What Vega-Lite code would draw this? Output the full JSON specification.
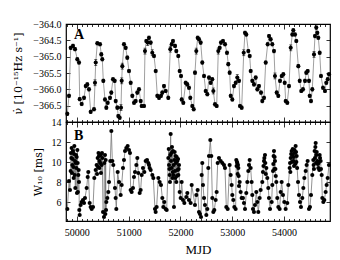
{
"$schema": "https://vega.github.io/schema/vega-lite/v6.json",
"padding": {"left": 12, "top": 18, "right": 9, "bottom": 5},
"spacing": 0,
"bounds": "flush",
"config": {
  "font": "Liberation Serif",
  "view": {"stroke": "#000", "strokeWidth": 1.2},
  "axis": {"domain": false, "grid": false, "labelFont": "Liberation Serif", "labelFontSize": 10, "labelColor": "#000", "tickColor": "#000", "tickWidth": 0.8, "titleFont": "DejaVu Serif", "titleFontWeight": "normal", "titleColor": "#000", "titleFontSize": 11, "labelFlush": false, "labelOverlap": false}
},
"datasets": {
"nudot": [
{"m":49815,"v":-366.75,"e":0.05},{"m":49848,"v":-366.2,"e":0.05},{"m":49881,"v":-364.73,"e":0.05},{"m":49925,"v":-364.67,"e":0.05},{"m":49964,"v":-364.77,"e":0.05},{"m":50008,"v":-365.08,"e":0.05},{"m":50041,"v":-365.18,"e":0.05},{"m":50055,"v":-366.3,"e":0.05},{"m":50093,"v":-366.45,"e":0.05},{"m":50138,"v":-366.26,"e":0.05},{"m":50171,"v":-365.9,"e":0.05},{"m":50201,"v":-365.85,"e":0.05},{"m":50234,"v":-366.0,"e":0.05},{"m":50267,"v":-366.69,"e":0.05},{"m":50331,"v":-366.61,"e":0.05},{"m":50350,"v":-365.8,"e":0.09},{"m":50364,"v":-365.18,"e":0.09},{"m":50395,"v":-364.59,"e":0.05},{"m":50447,"v":-364.62,"e":0.05},{"m":50472,"v":-364.93,"e":0.05},{"m":50491,"v":-365.08,"e":0.05},{"m":50511,"v":-365.74,"e":0.05},{"m":50543,"v":-366.31,"e":0.05},{"m":50569,"v":-366.56,"e":0.05},{"m":50596,"v":-366.41,"e":0.05},{"m":50640,"v":-366.26,"e":0.05},{"m":50665,"v":-366.1,"e":0.05},{"m":50698,"v":-365.69,"e":0.05},{"m":50731,"v":-365.74,"e":0.05},{"m":50750,"v":-366.36,"e":0.05},{"m":50781,"v":-366.56,"e":0.05},{"m":50800,"v":-366.82,"e":0.05},{"m":50827,"v":-366.87,"e":0.05},{"m":50852,"v":-366.56,"e":0.09},{"m":50866,"v":-365.74,"e":0.09},{"m":50878,"v":-365.29,"e":0.09},{"m":50910,"v":-364.62,"e":0.05},{"m":50943,"v":-364.73,"e":0.05},{"m":50974,"v":-365.03,"e":0.05},{"m":51007,"v":-365.44,"e":0.05},{"m":51040,"v":-365.8,"e":0.05},{"m":51071,"v":-366.2,"e":0.05},{"m":51104,"v":-366.41,"e":0.05},{"m":51136,"v":-366.36,"e":0.05},{"m":51167,"v":-366.1,"e":0.05},{"m":51200,"v":-366.0,"e":0.05},{"m":51233,"v":-366.36,"e":0.05},{"m":51252,"v":-366.51,"e":0.05},{"m":51297,"v":-366.51,"e":0.05},{"m":51316,"v":-364.83,"e":0.09},{"m":51341,"v":-364.52,"e":0.05},{"m":51368,"v":-364.57,"e":0.09},{"m":51393,"v":-364.42,"e":0.05},{"m":51426,"v":-364.57,"e":0.05},{"m":51457,"v":-364.88,"e":0.09},{"m":51490,"v":-364.98,"e":0.05},{"m":51523,"v":-365.44,"e":0.05},{"m":51554,"v":-366.2,"e":0.05},{"m":51587,"v":-366.26,"e":0.05},{"m":51625,"v":-366.2,"e":0.05},{"m":51650,"v":-366.1,"e":0.05},{"m":51683,"v":-365.9,"e":0.05},{"m":51716,"v":-366.05,"e":0.05},{"m":51766,"v":-366.26,"e":0.05},{"m":51805,"v":-364.77,"e":0.09},{"m":51832,"v":-364.62,"e":0.05},{"m":51857,"v":-364.52,"e":0.05},{"m":51896,"v":-364.67,"e":0.05},{"m":51921,"v":-364.83,"e":0.05},{"m":51959,"v":-364.98,"e":0.05},{"m":51986,"v":-365.44,"e":0.05},{"m":52012,"v":-365.59,"e":0.05},{"m":52025,"v":-366.31,"e":0.05},{"m":52056,"v":-366.41,"e":0.05},{"m":52102,"v":-365.8,"e":0.05},{"m":52133,"v":-365.85,"e":0.05},{"m":52166,"v":-365.95,"e":0.05},{"m":52191,"v":-366.26,"e":0.05},{"m":52230,"v":-366.51,"e":0.05},{"m":52257,"v":-366.61,"e":0.05},{"m":52282,"v":-365.49,"e":0.05},{"m":52307,"v":-364.83,"e":0.09},{"m":52334,"v":-364.42,"e":0.05},{"m":52359,"v":-364.47,"e":0.05},{"m":52392,"v":-364.57,"e":0.05},{"m":52423,"v":-365.18,"e":0.05},{"m":52456,"v":-365.59,"e":0.05},{"m":52489,"v":-366.05,"e":0.05},{"m":52520,"v":-366.15,"e":0.05},{"m":52552,"v":-365.64,"e":0.05},{"m":52585,"v":-365.8,"e":0.05},{"m":52616,"v":-365.69,"e":0.05},{"m":52636,"v":-366.05,"e":0.09},{"m":52668,"v":-366.46,"e":0.05},{"m":52701,"v":-366.51,"e":0.05},{"m":52732,"v":-364.83,"e":0.09},{"m":52759,"v":-364.73,"e":0.05},{"m":52784,"v":-364.57,"e":0.05},{"m":52823,"v":-364.52,"e":0.05},{"m":52862,"v":-364.62,"e":0.05},{"m":52900,"v":-364.88,"e":0.05},{"m":52925,"v":-365.23,"e":0.05},{"m":52952,"v":-365.49,"e":0.05},{"m":52972,"v":-366.2,"e":0.05},{"m":53003,"v":-366.31,"e":0.05},{"m":53035,"v":-365.9,"e":0.05},{"m":53068,"v":-365.8,"e":0.05},{"m":53099,"v":-365.64,"e":0.09},{"m":53132,"v":-365.74,"e":0.05},{"m":53151,"v":-366.51,"e":0.05},{"m":53184,"v":-366.56,"e":0.05},{"m":53223,"v":-364.88,"e":0.09},{"m":53248,"v":-364.27,"e":0.05},{"m":53273,"v":-364.32,"e":0.05},{"m":53312,"v":-364.83,"e":0.05},{"m":53339,"v":-364.98,"e":0.05},{"m":53358,"v":-365.44,"e":0.05},{"m":53389,"v":-365.74,"e":0.05},{"m":53422,"v":-365.85,"e":0.05},{"m":53455,"v":-365.64,"e":0.05},{"m":53486,"v":-366.0,"e":0.05},{"m":53518,"v":-365.9,"e":0.05},{"m":53557,"v":-366.1,"e":0.05},{"m":53582,"v":-366.36,"e":0.05},{"m":53615,"v":-366.26,"e":0.05},{"m":53648,"v":-365.18,"e":0.05},{"m":53686,"v":-364.62,"e":0.05},{"m":53712,"v":-364.37,"e":0.05},{"m":53744,"v":-364.47,"e":0.05},{"m":53775,"v":-364.62,"e":0.05},{"m":53808,"v":-364.83,"e":0.05},{"m":53827,"v":-365.59,"e":0.09},{"m":53860,"v":-366.1,"e":0.05},{"m":53891,"v":-366.2,"e":0.05},{"m":53924,"v":-365.74,"e":0.05},{"m":53957,"v":-365.59,"e":0.05},{"m":53988,"v":-365.54,"e":0.05},{"m":54015,"v":-365.8,"e":0.05},{"m":54034,"v":-366.36,"e":0.05},{"m":54065,"v":-366.41,"e":0.05},{"m":54098,"v":-365.9,"e":0.05},{"m":54131,"v":-364.73,"e":0.09},{"m":54162,"v":-364.32,"e":0.05},{"m":54181,"v":-364.19,"e":0.05},{"m":54214,"v":-364.32,"e":0.05},{"m":54239,"v":-364.52,"e":0.05},{"m":54278,"v":-365.29,"e":0.05},{"m":54305,"v":-365.74,"e":0.05},{"m":54335,"v":-366.05,"e":0.05},{"m":54368,"v":-366.0,"e":0.05},{"m":54407,"v":-365.74,"e":0.05},{"m":54432,"v":-365.49,"e":0.05},{"m":54459,"v":-365.44,"e":0.05},{"m":54484,"v":-365.74,"e":0.05},{"m":54498,"v":-366.2,"e":0.05},{"m":54523,"v":-366.36,"e":0.05},{"m":54548,"v":-366.0,"e":0.05},{"m":54581,"v":-364.93,"e":0.09},{"m":54600,"v":-364.37,"e":0.05},{"m":54625,"v":-364.11,"e":0.05},{"m":54645,"v":-364.27,"e":0.05},{"m":54664,"v":-364.42,"e":0.05},{"m":54691,"v":-364.88,"e":0.05},{"m":54716,"v":-365.59,"e":0.05},{"m":54755,"v":-365.95,"e":0.05},{"m":54793,"v":-366.05,"e":0.05},{"m":54818,"v":-365.8,"e":0.05},{"m":54846,"v":-365.69,"e":0.05},{"m":54871,"v":-365.54,"e":0.05}
],
"w10": [
{"m":49816,"w":5.3},{"m":49848,"w":8.1},{"m":49867,"w":7.2},{"m":49880,"w":9.1},{"m":49893,"w":10.4},{"m":49899,"w":11.4},{"m":49912,"w":9.7},{"m":49925,"w":11.1},{"m":49938,"w":8.4},{"m":49951,"w":11.6},{"m":49964,"w":10.1},{"m":49970,"w":7.4},{"m":49983,"w":10.7},{"m":49990,"w":9.4},{"m":50002,"w":6.9},{"m":50009,"w":11.2},{"m":50015,"w":9.9},{"m":50028,"w":8.7},{"m":50041,"w":8.0},{"m":50047,"w":5.2},{"m":50054,"w":4.7},{"m":50073,"w":5.7},{"m":50093,"w":6.0},{"m":50118,"w":6.2},{"m":50138,"w":5.9},{"m":50157,"w":6.4},{"m":50189,"w":7.4},{"m":50209,"w":8.5},{"m":50221,"w":9.0},{"m":50247,"w":5.9},{"m":50266,"w":5.5},{"m":50286,"w":5.3},{"m":50312,"w":5.5},{"m":50337,"w":8.4},{"m":50363,"w":9.2},{"m":50382,"w":9.7},{"m":50402,"w":10.4},{"m":50427,"w":10.6},{"m":50440,"w":10.1},{"m":50460,"w":10.7},{"m":50479,"w":9.7},{"m":50492,"w":10.4},{"m":50505,"w":5.0},{"m":50524,"w":4.5},{"m":50530,"w":9.9},{"m":50543,"w":10.7},{"m":50550,"w":4.8},{"m":50556,"w":10.2},{"m":50563,"w":5.2},{"m":50569,"w":6.0},{"m":50588,"w":6.4},{"m":50608,"w":7.0},{"m":50621,"w":8.0},{"m":50646,"w":10.1},{"m":50666,"w":13.1},{"m":50685,"w":10.1},{"m":50704,"w":9.7},{"m":50736,"w":7.4},{"m":50749,"w":6.4},{"m":50762,"w":5.3},{"m":50788,"w":9.0},{"m":50814,"w":8.0},{"m":50846,"w":6.7},{"m":50865,"w":7.7},{"m":50891,"w":9.4},{"m":50910,"w":10.2},{"m":50930,"w":11.1},{"m":50955,"w":11.4},{"m":50981,"w":11.6},{"m":51007,"w":11.2},{"m":51026,"w":10.9},{"m":51039,"w":7.2},{"m":51058,"w":7.0},{"m":51084,"w":7.4},{"m":51103,"w":8.5},{"m":51123,"w":9.0},{"m":51149,"w":9.7},{"m":51168,"w":10.4},{"m":51187,"w":8.9},{"m":51213,"w":6.9},{"m":51232,"w":7.2},{"m":51252,"w":8.7},{"m":51277,"w":9.4},{"m":51303,"w":9.0},{"m":51329,"w":10.1},{"m":51355,"w":10.2},{"m":51380,"w":9.9},{"m":51393,"w":9.7},{"m":51406,"w":9.4},{"m":51426,"w":9.2},{"m":51458,"w":8.7},{"m":51477,"w":8.4},{"m":51509,"w":5.3},{"m":51522,"w":5.0},{"m":51541,"w":5.5},{"m":51574,"w":8.4},{"m":51599,"w":8.0},{"m":51625,"w":7.7},{"m":51651,"w":6.4},{"m":51670,"w":5.5},{"m":51689,"w":6.0},{"m":51715,"w":5.3},{"m":51735,"w":5.2},{"m":51767,"w":10.4},{"m":51780,"w":9.7},{"m":51793,"w":8.7},{"m":51805,"w":10.7},{"m":51812,"w":12.8},{"m":51818,"w":10.1},{"m":51831,"w":9.4},{"m":51844,"w":8.4},{"m":51857,"w":11.1},{"m":51870,"w":9.7},{"m":51876,"w":5.5},{"m":51883,"w":10.2},{"m":51895,"w":9.1},{"m":51908,"w":10.6},{"m":51921,"w":8.0},{"m":51941,"w":10.1},{"m":51960,"w":8.7},{"m":51973,"w":9.7},{"m":51986,"w":7.0},{"m":52005,"w":6.4},{"m":52024,"w":8.0},{"m":52050,"w":6.2},{"m":52076,"w":5.9},{"m":52114,"w":6.5},{"m":52134,"w":6.9},{"m":52166,"w":6.2},{"m":52198,"w":5.9},{"m":52218,"w":7.7},{"m":52282,"w":5.7},{"m":52308,"w":6.7},{"m":52333,"w":7.2},{"m":52359,"w":5.0},{"m":52378,"w":4.8},{"m":52398,"w":4.5},{"m":52411,"w":8.7},{"m":52423,"w":9.9},{"m":52436,"w":7.7},{"m":52456,"w":6.4},{"m":52475,"w":5.7},{"m":52501,"w":4.7},{"m":52520,"w":5.3},{"m":52539,"w":9.4},{"m":52552,"w":10.6},{"m":52578,"w":12.2},{"m":52597,"w":10.6},{"m":52617,"w":6.4},{"m":52636,"w":5.0},{"m":52655,"w":5.2},{"m":52681,"w":6.2},{"m":52700,"w":7.0},{"m":52720,"w":9.9},{"m":52745,"w":10.4},{"m":52778,"w":10.1},{"m":52810,"w":9.9},{"m":52842,"w":9.7},{"m":52861,"w":9.4},{"m":52887,"w":5.5},{"m":52913,"w":5.3},{"m":52951,"w":9.7},{"m":52971,"w":8.7},{"m":52990,"w":7.7},{"m":53003,"w":6.7},{"m":53022,"w":6.2},{"m":53042,"w":5.5},{"m":53067,"w":5.3},{"m":53080,"w":10.2},{"m":53099,"w":9.9},{"m":53119,"w":9.4},{"m":53145,"w":8.0},{"m":53164,"w":7.0},{"m":53183,"w":6.4},{"m":53209,"w":6.4},{"m":53228,"w":5.9},{"m":53248,"w":5.3},{"m":53273,"w":6.9},{"m":53293,"w":8.0},{"m":53312,"w":9.1},{"m":53325,"w":9.7},{"m":53338,"w":10.2},{"m":53357,"w":9.4},{"m":53376,"w":8.0},{"m":53389,"w":6.7},{"m":53402,"w":5.3},{"m":53421,"w":5.0},{"m":53441,"w":5.7},{"m":53467,"w":7.0},{"m":53486,"w":6.0},{"m":53505,"w":5.0},{"m":53531,"w":6.4},{"m":53550,"w":7.2},{"m":53582,"w":8.0},{"m":53615,"w":10.1},{"m":53634,"w":10.7},{"m":53660,"w":9.4},{"m":53679,"w":8.4},{"m":53698,"w":7.4},{"m":53711,"w":6.4},{"m":53731,"w":5.3},{"m":53763,"w":6.0},{"m":53776,"w":7.7},{"m":53789,"w":9.1},{"m":53808,"w":11.1},{"m":53827,"w":10.1},{"m":53853,"w":8.0},{"m":53872,"w":6.4},{"m":53892,"w":5.5},{"m":53917,"w":5.3},{"m":53937,"w":7.0},{"m":53956,"w":8.0},{"m":53982,"w":6.7},{"m":54007,"w":6.0},{"m":54033,"w":5.3},{"m":54065,"w":5.9},{"m":54085,"w":7.7},{"m":54111,"w":9.4},{"m":54130,"w":10.4},{"m":54149,"w":11.1},{"m":54162,"w":10.7},{"m":54181,"w":10.1},{"m":54201,"w":11.2},{"m":54226,"w":11.6},{"m":54246,"w":10.6},{"m":54272,"w":8.0},{"m":54291,"w":6.7},{"m":54310,"w":6.0},{"m":54329,"w":5.5},{"m":54355,"w":6.4},{"m":54375,"w":7.4},{"m":54394,"w":8.4},{"m":54420,"w":9.1},{"m":54439,"w":9.7},{"m":54458,"w":10.1},{"m":54484,"w":5.3},{"m":54503,"w":5.5},{"m":54523,"w":6.7},{"m":54548,"w":8.7},{"m":54574,"w":9.7},{"m":54593,"w":11.1},{"m":54613,"w":11.9},{"m":54626,"w":10.7},{"m":54645,"w":10.1},{"m":54664,"w":9.4},{"m":54690,"w":10.7},{"m":54709,"w":10.1},{"m":54729,"w":8.7},{"m":54742,"w":6.4},{"m":54761,"w":6.0},{"m":54780,"w":6.2},{"m":54806,"w":7.0},{"m":54825,"w":7.7},{"m":54845,"w":8.4},{"m":54870,"w":9.7},
{"m":49885,"w":10.9},{"m":49905,"w":8.9},{"m":49918,"w":10.3},{"m":49932,"w":9.5},{"m":49945,"w":10.8},{"m":49958,"w":8.7},{"m":49976,"w":9.9},{"m":49996,"w":10.5},{"m":50020,"w":7.0},{"m":50034,"w":9.2},
{"m":50390,"w":8.8},{"m":50410,"w":9.5},{"m":50418,"w":10.9},{"m":50433,"w":9.4},{"m":50450,"w":9.9},{"m":50466,"w":8.9},{"m":50485,"w":10.9},
{"m":51775,"w":11.3},{"m":51786,"w":9.3},{"m":51799,"w":8.0},{"m":51824,"w":10.9},{"m":51837,"w":11.5},{"m":51850,"w":9.0},{"m":51863,"w":8.7},{"m":51889,"w":11.0},{"m":51902,"w":8.4},{"m":51914,"w":9.9},{"m":51928,"w":10.5},{"m":51934,"w":8.6},{"m":51947,"w":9.2},{"m":51954,"w":10.3},{"m":51966,"w":9.3},
{"m":53086,"w":9.6},{"m":53093,"w":10.0},{"m":53106,"w":8.8},{"m":53112,"w":9.7},{"m":53125,"w":8.6},{"m":53132,"w":7.6},
{"m":53595,"w":9.0},{"m":53605,"w":9.6},{"m":53622,"w":10.4},{"m":53640,"w":9.9},{"m":53650,"w":8.8},
{"m":53795,"w":9.8},{"m":53801,"w":10.6},{"m":53815,"w":9.3},{"m":53820,"w":10.5},{"m":53835,"w":9.3},{"m":53842,"w":8.6},
{"m":54118,"w":9.9},{"m":54124,"w":9.0},{"m":54140,"w":10.8},{"m":54155,"w":10.0},{"m":54170,"w":11.3},{"m":54188,"w":10.5},{"m":54195,"w":9.6},{"m":54210,"w":10.9},{"m":54218,"w":9.8},{"m":54234,"w":11.0},{"m":54240,"w":10.0},{"m":54255,"w":9.4},
{"m":54568,"w":10.2},{"m":54580,"w":9.3},{"m":54600,"w":10.4},{"m":54607,"w":11.5},{"m":54620,"w":9.9},{"m":54633,"w":11.0},{"m":54652,"w":9.8},{"m":54670,"w":9.9},{"m":54683,"w":9.2},{"m":54697,"w":10.4},{"m":54716,"w":9.3}
],
"labA": [{"m": 49945, "v": -364.47, "t": "A"}],
"labB": [{"m": 49945, "w": 12.25, "t": "B"}]
},
"vconcat": [
{
  "width": 264, "height": 98,
  "resolve": {"axis": {"x": "independent", "y": "independent"}},
  "layer": [
    {"data": {"name": "nudot"}, "mark": {"type": "line", "color": "#888", "strokeWidth": 0.8},
     "encoding": {
       "x": {"field": "m", "type": "quantitative", "scale": {"domain": [49790, 54890], "nice": false, "zero": false},
             "axis": {"orient": "bottom", "labels": false, "title": null, "values": [49800,49900,50000,50100,50200,50300,50400,50500,50600,50700,50800,50900,51000,51100,51200,51300,51400,51500,51600,51700,51800,51900,52000,52100,52200,52300,52400,52500,52600,52700,52800,52900,53000,53100,53200,53300,53400,53500,53600,53700,53800,53900,54000,54100,54200,54300,54400,54500,54600,54700,54800],
                      "tickSize": {"condition": {"test": "datum.value % 1000 === 0", "value": -5}, "value": -2.5}}},
       "y": {"field": "v", "type": "quantitative", "scale": {"domain": [-367, -364], "nice": false, "zero": false},
             "axis": {"orient": "left", "values": [-366.5, -366, -365.5, -365, -364.5, -364], "format": ".1f", "tickSize": -4, "labelPadding": 9, "title": "ν̇ [10⁻¹⁵Hz s⁻¹]", "titlePadding": 9}}
     }},
    {"data": {"name": "nudot"}, "mark": {"type": "errorbar", "color": "#000", "ticks": {"size": 3}, "thickness": 0.8},
     "encoding": {
       "x": {"field": "m", "type": "quantitative", "axis": null},
       "y": {"field": "v", "type": "quantitative", "axis": null},
       "yError": {"field": "e"}
     }},
    {"data": {"name": "nudot"}, "mark": {"type": "circle", "color": "#000", "opacity": 1, "size": 17},
     "encoding": {
       "x": {"field": "m", "type": "quantitative",
             "axis": {"orient": "top", "labels": false, "title": null, "values": [49800,49900,50000,50100,50200,50300,50400,50500,50600,50700,50800,50900,51000,51100,51200,51300,51400,51500,51600,51700,51800,51900,52000,52100,52200,52300,52400,52500,52600,52700,52800,52900,53000,53100,53200,53300,53400,53500,53600,53700,53800,53900,54000,54100,54200,54300,54400,54500,54600,54700,54800],
                      "tickSize": {"condition": {"test": "datum.value % 1000 === 0", "value": -5}, "value": -2.5}}},
       "y": {"field": "v", "type": "quantitative",
             "axis": {"orient": "right", "labels": false, "title": null, "values": [-366.5, -366, -365.5, -365, -364.5, -364], "tickSize": -4}}
     }},
    {"data": {"name": "labA"}, "mark": {"type": "text", "align": "left", "baseline": "alphabetic", "fontSize": 14, "fontWeight": "bold", "font": "Liberation Serif", "color": "#000"},
     "encoding": {
       "x": {"field": "m", "type": "quantitative", "axis": null},
       "y": {"field": "v", "type": "quantitative", "axis": null},
       "text": {"field": "t"}
     }}
  ]
},
{
  "width": 264, "height": 99,
  "resolve": {"axis": {"x": "independent", "y": "independent"}},
  "layer": [
    {"data": {"name": "w10"}, "mark": {"type": "line", "color": "#777", "strokeWidth": 0.8},
     "encoding": {
       "x": {"field": "m", "type": "quantitative", "scale": {"domain": [49790, 54890], "nice": false, "zero": false},
             "axis": {"orient": "bottom", "format": "d", "labelExpr": "datum.value % 1000 === 0 ? datum.label : ''", "labelPadding": 11, "title": "MJD", "titleFont": "Liberation Serif", "titleFontSize": 13, "titlePadding": 4,
                      "values": [49800,49900,50000,50100,50200,50300,50400,50500,50600,50700,50800,50900,51000,51100,51200,51300,51400,51500,51600,51700,51800,51900,52000,52100,52200,52300,52400,52500,52600,52700,52800,52900,53000,53100,53200,53300,53400,53500,53600,53700,53800,53900,54000,54100,54200,54300,54400,54500,54600,54700,54800],
                      "tickSize": {"condition": {"test": "datum.value % 1000 === 0", "value": -5}, "value": -2.5}}},
       "y": {"field": "w", "type": "quantitative", "scale": {"domain": [4.1, 14], "nice": false, "zero": false},
             "axis": {"orient": "left", "values": [6, 8, 10, 12, 14], "tickSize": -4, "labelPadding": 9, "title": "W₁₀ [ms]", "titlePadding": 8}}
     }},
    {"data": {"name": "w10"}, "mark": {"type": "circle", "color": "#000", "opacity": 1, "size": 17},
     "encoding": {
       "x": {"field": "m", "type": "quantitative",
             "axis": {"orient": "top", "labels": false, "title": null, "values": [49800,49900,50000,50100,50200,50300,50400,50500,50600,50700,50800,50900,51000,51100,51200,51300,51400,51500,51600,51700,51800,51900,52000,52100,52200,52300,52400,52500,52600,52700,52800,52900,53000,53100,53200,53300,53400,53500,53600,53700,53800,53900,54000,54100,54200,54300,54400,54500,54600,54700,54800],
                      "tickSize": {"condition": {"test": "datum.value % 1000 === 0", "value": -5}, "value": -2.5}}},
       "y": {"field": "w", "type": "quantitative",
             "axis": {"orient": "right", "labels": false, "title": null, "values": [6, 8, 10, 12, 14], "tickSize": -4}}
     }},
    {"data": {"name": "labB"}, "mark": {"type": "text", "align": "left", "baseline": "alphabetic", "fontSize": 14, "fontWeight": "bold", "font": "Liberation Serif", "color": "#000"},
     "encoding": {
       "x": {"field": "m", "type": "quantitative", "axis": null},
       "y": {"field": "w", "type": "quantitative", "axis": null},
       "text": {"field": "t"}
     }}
  ]
}
]
}
